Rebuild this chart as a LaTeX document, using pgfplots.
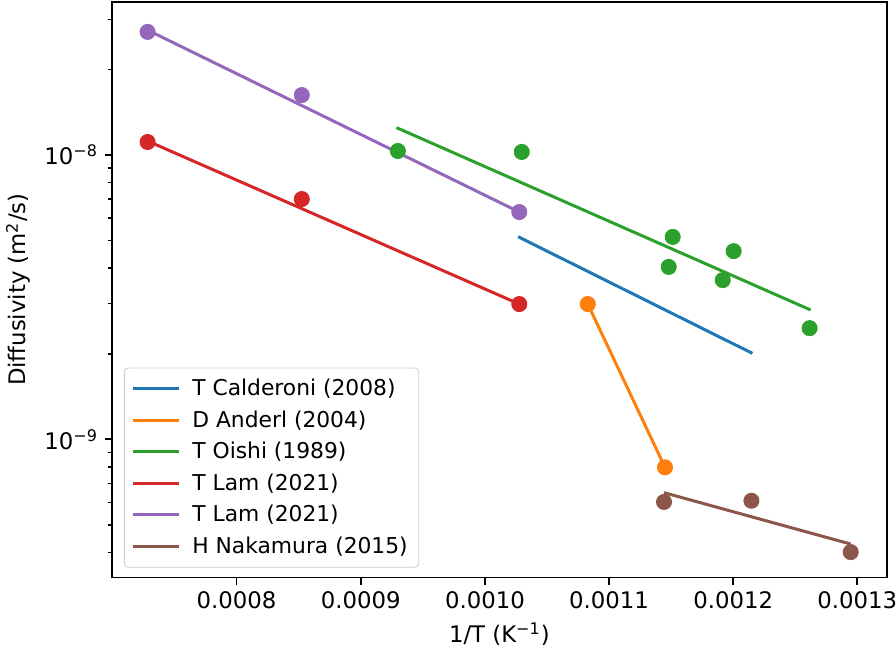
\documentclass[border=0pt]{standalone}
\usepackage{fontspec}
\setmainfont{DejaVu Sans}
\usepackage{pgfplots}
\pgfplotsset{compat=1.18}
\definecolor{tabblue}{HTML}{1f77b4}
\definecolor{taborange}{HTML}{ff7f0e}
\definecolor{tabgreen}{HTML}{2ca02c}
\definecolor{tabred}{HTML}{d62728}
\definecolor{tabpurple}{HTML}{9467bd}
\definecolor{tabbrown}{HTML}{8c564b}

\begin{document}
\begin{tikzpicture}
\begin{axis}[
  width=387.4pt, height=288pt,
  scale only axis,
  ymode=log,
  xmin=0.0006996, xmax=0.0013237,
  ymin=3.26e-10, ymax=3.46e-8,
  xtick={0.0008,0.0009,0.0010,0.0011,0.0012,0.0013},
  xticklabels={0.0008,0.0009,0.0010,0.0011,0.0012,0.0013},
  scaled x ticks=false,
  ytick={1e-9,1e-8},
  yticklabels={10\textsuperscript{−9},10\textsuperscript{−8}},
  minor ytick={4e-10,5e-10,6e-10,7e-10,8e-10,9e-10,2e-9,3e-9,4e-9,5e-9,6e-9,7e-9,8e-9,9e-9,2e-8,3e-8},
  tick align=outside,
  major tick length=3.5pt,
  minor tick length=2pt,
  tick style={black, line width=0.8pt},
  axis line style={line width=0.8pt},
  xtick pos=bottom, ytick pos=left,
  ticklabel style={font=\fontsize{11.4}{13.5}\selectfont},
  xlabel={1/T (K\textsuperscript{−1})},
  ylabel={Diffusivity (m\textsuperscript{2}/s)},
  label style={font=\fontsize{11.4}{13.5}\selectfont},
  legend cell align=left,
  legend image code/.code={\draw[#1] (0pt,0pt) -- (23pt,0pt); \path (27pt,0pt);},
  legend style={at={(0,0)}, anchor=south west, xshift=6pt, yshift=5pt,
    draw=black!20, rounded corners=2pt, fill=white, fill opacity=0.8,
    text opacity=1, font=\fontsize{10.9}{13}\selectfont,
    row sep=2pt, inner xsep=3.5pt, inner ysep=3.5pt},
]
% fitted lines
\addplot[tabblue, line width=1.5pt] coordinates {(0.0010267,5.16e-9) (0.0012155,2.006e-9)};
\addlegendentry{T Calderoni (2008)}
\addplot[taborange, line width=1.5pt] coordinates {(0.0010829,2.99e-9) (0.0011451,7.97e-10)};
\addlegendentry{D Anderl (2004)}
\addplot[tabgreen, line width=1.5pt] coordinates {(0.0009288,1.248e-8) (0.0012624,2.85e-9)};
\addlegendentry{T Oishi (1989)}
\addplot[tabred, line width=1.5pt] coordinates {(0.0007283,1.12e-8) (0.0010277,2.99e-9)};
\addlegendentry{T Lam (2021)}
\addplot[tabpurple, line width=1.5pt] coordinates {(0.0007283,2.75e-8) (0.0010277,6.3e-9)};
\addlegendentry{T Lam (2021)}
\addplot[tabbrown, line width=1.5pt] coordinates {(0.0011443,6.49e-10) (0.0012947,4.28e-10)};
\addlegendentry{H Nakamura (2015)}
% measured points
\addplot[only marks, mark=*, mark size=3.8pt, taborange, forget plot]
  coordinates {(0.0010829,2.99e-9) (0.0011451,7.97e-10)};
\addplot[only marks, mark=*, mark size=3.8pt, tabgreen, forget plot]
  coordinates {(0.0009299,1.033e-8) (0.0010297,1.025e-8) (0.0011513,5.15e-9)
  (0.0011481,4.04e-9) (0.0012004,4.59e-9) (0.0011916,3.63e-9) (0.0012616,2.46e-9)};
\addplot[only marks, mark=*, mark size=3.8pt, tabred, forget plot]
  coordinates {(0.0007283,1.111e-8) (0.0008525,7.0e-9) (0.0010277,2.99e-9)};
\addplot[only marks, mark=*, mark size=3.8pt, tabpurple, forget plot]
  coordinates {(0.0007283,2.71e-8) (0.0008525,1.625e-8) (0.0010277,6.3e-9)};
\addplot[only marks, mark=*, mark size=3.8pt, tabbrown, forget plot]
  coordinates {(0.0011443,6.02e-10) (0.0012147,6.08e-10) (0.0012947,4.01e-10)};
\end{axis}
\pgfresetboundingbox
\path ([shift={(-56pt,-36pt)}]current axis.south west) rectangle ([shift={(4.65pt,0.85pt)}]current axis.north east);
\end{tikzpicture}
\end{document}
